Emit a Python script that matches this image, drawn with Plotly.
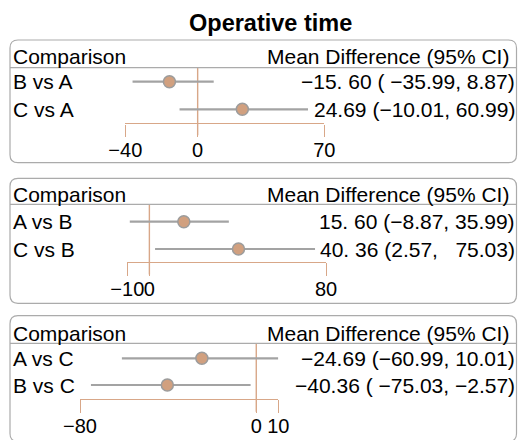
import plotly.graph_objects as go

# ---------------- data ----------------
title = "Operative time"
header_left = "Comparison"
header_right = "Mean Difference (95% CI)"

p1_labels = ["B vs A", "C vs A"]
p1_mean = [-15.60, 24.69]
p1_lower = [-35.99, -10.01]
p1_upper = [8.87, 60.99]
p1_text = ["−15. 60 ( −35.99, 8.87)", "24.69 (−10.01, 60.99)"]
p1_ticks = [-40, 0, 70]

p2_labels = ["A vs B", "C vs B"]
p2_mean = [15.60, 40.36]
p2_lower = [-8.87, 2.57]
p2_upper = [35.99, 75.03]
p2_text = ["15. 60 (−8.87, 35.99)", "40. 36 (2.57,\u00a0\u00a0\u00a075.03)"]
p2_ticks = [-10, 0, 80]

p3_labels = ["A vs C", "B vs C"]
p3_mean = [-24.69, -40.36]
p3_lower = [-60.99, -75.03]
p3_upper = [10.01, -2.57]
p3_text = ["−24.69 (−60.99, 10.01)", "−40.36 ( −75.03, −2.57)"]
p3_ticks = [-80, 0, 10]

# ---------------- layout geometry (pixels) ----------------
W, H = 518, 440
FONT = "Liberation Sans, Arial, Helvetica, sans-serif"
TAN = "#d8a788"
GRAY = "#a3a3a3"
BORDER = "#ababab"

panels = [
    dict(labels=p1_labels, mean=p1_mean, lo=p1_lower, hi=p1_upper, text=p1_text, ticks=p1_ticks,
         top=40, bottom=162.7, head=57, hline=67.7, r1=81.7, r2=109.3, axis=123.3, tickend=135.3,
         xpx=(125.3, 324.3)),
    dict(labels=p2_labels, mean=p2_mean, lo=p2_lower, hi=p2_upper, text=p2_text, ticks=p2_ticks,
         top=178.3, bottom=303.3, head=195, hline=204.3, r1=221.7, r2=249, axis=261.8, tickend=274.5,
         xpx=(127.3, 326)),
    dict(labels=p3_labels, mean=p3_mean, lo=p3_lower, hi=p3_upper, text=p3_text, ticks=p3_ticks,
         top=315.7, bottom=441.5, head=333, hline=343.3, r1=358.3, r2=385, axis=399, tickend=411.7,
         xpx=(80, 278.3)),
]


def px(x):
    return x / W


def py(y):
    return 1 - y / H


fig = go.Figure()
shapes = []
annotations = []

annotations.append(dict(text="<b>%s</b>" % title, x=px(270), y=py(23), xref="paper", yref="paper",
                        xanchor="center", yanchor="middle", showarrow=False,
                        font=dict(family=FONT, size=23.5, color="#000")))

R = 8
for i, p in enumerate(panels):
    n = "" if i == 0 else str(i + 1)
    xa, ya = "x" + n, "y" + n
    # y axis range so rows land at r1, r2
    s = p["r2"] - p["r1"]
    top_val = 1 - (p["r1"] - p["hline"]) / s
    bot_val = top_val + (p["axis"] - p["hline"]) / s
    rows = [1, 2]

    fig.add_trace(go.Scatter(
        x=p["mean"], y=rows, xaxis=xa, yaxis=ya, mode="markers",
        error_x=dict(type="data", symmetric=False,
                     array=[h - m for h, m in zip(p["hi"], p["mean"])],
                     arrayminus=[m - l for m, l in zip(p["mean"], p["lo"])],
                     color=GRAY, thickness=2.2, width=0),
        marker=dict(size=12, color="#d1a07f", line=dict(color="#9c9c9c", width=1.5)),
        cliponaxis=False, showlegend=False, hoverinfo="skip"))

    ticktext = [("−%g" % abs(t)) if t < 0 else ("%g" % t) for t in p["ticks"]]
    fig.layout["xaxis" + n] = dict(
        domain=[px(p["xpx"][0]), px(p["xpx"][1])], anchor=ya,
        range=[min(p["ticks"]), max(p["ticks"])], automargin=False, tickangle=0,
        showgrid=False, zeroline=False, showline=True, linecolor=TAN, linewidth=1.4,
        ticks="outside", ticklen=p["tickend"] - p["axis"], tickcolor=TAN, tickwidth=1.4,
        tickvals=p["ticks"], ticktext=ticktext, ticklabelstandoff=-4,
        tickfont=dict(family=FONT, size=20, color="#000"), fixedrange=True)
    fig.layout["yaxis" + n] = dict(
        domain=[py(p["axis"]), py(p["hline"])], anchor=xa, automargin=False,
        range=[bot_val, top_val], visible=False, fixedrange=True)

    # reference line at 0
    shapes.append(dict(type="line", xref=xa, yref="paper", x0=0, x1=0,
                       y0=py(p["tickend"]), y1=py(p["hline"]),
                       line=dict(color=TAN, width=1.4), layer="below"))
    # header separator
    shapes.append(dict(type="line", xref="paper", yref="paper", x0=px(10), x1=px(516.5),
                       y0=py(p["hline"]), y1=py(p["hline"]),
                       line=dict(color=BORDER, width=1.2)))
    # rounded box
    x0, x1 = px(10), px(516.5)
    yt, yb = py(p["top"]), py(p["bottom"])
    rx, ry = R / W, R / H
    path = (f"M {x0+rx},{yt} L {x1-rx},{yt} Q {x1},{yt} {x1},{yt-ry} "
            f"L {x1},{yb+ry} Q {x1},{yb} {x1-rx},{yb} "
            f"L {x0+rx},{yb} Q {x0},{yb} {x0},{yb+ry} "
            f"L {x0},{yt-ry} Q {x0},{yt} {x0+rx},{yt} Z")
    shapes.append(dict(type="path", xref="paper", yref="paper", path=path,
                       line=dict(color=BORDER, width=1.2), fillcolor="rgba(0,0,0,0)"))

    annotations.append(dict(text=header_left, x=px(11), y=py(p["head"]), xref="paper", yref="paper",
                            xanchor="left", yanchor="middle", showarrow=False,
                            font=dict(family=FONT, size=21, color="#000")))
    annotations.append(dict(text=header_right, x=px(511), y=py(p["head"]), xref="paper", yref="paper",
                            xanchor="right", yanchor="middle", showarrow=False,
                            font=dict(family=FONT, size=21, color="#000")))
    for r, lab, txt in zip(rows, p["labels"], p["text"]):
        annotations.append(dict(text=lab, x=px(11), y=r, xref="paper", yref=ya,
                                xanchor="left", yanchor="middle", showarrow=False,
                                font=dict(family=FONT, size=21, color="#000")))
        annotations.append(dict(text=txt, x=px(517), y=r, xref="paper", yref=ya,
                                xanchor="right", yanchor="middle", showarrow=False,
                                font=dict(family=FONT, size=21, color="#000")))

fig.update_layout(template="none", width=W, height=H, margin=dict(l=0, r=0, t=0, b=0, pad=0),
                  paper_bgcolor="white", plot_bgcolor="white",
                  shapes=shapes, annotations=annotations, showlegend=False)

fig.write_html("out.html", config={"displayModeBar": False},
               post_script="document.body.style.margin='0px';document.body.style.padding='0px';")
